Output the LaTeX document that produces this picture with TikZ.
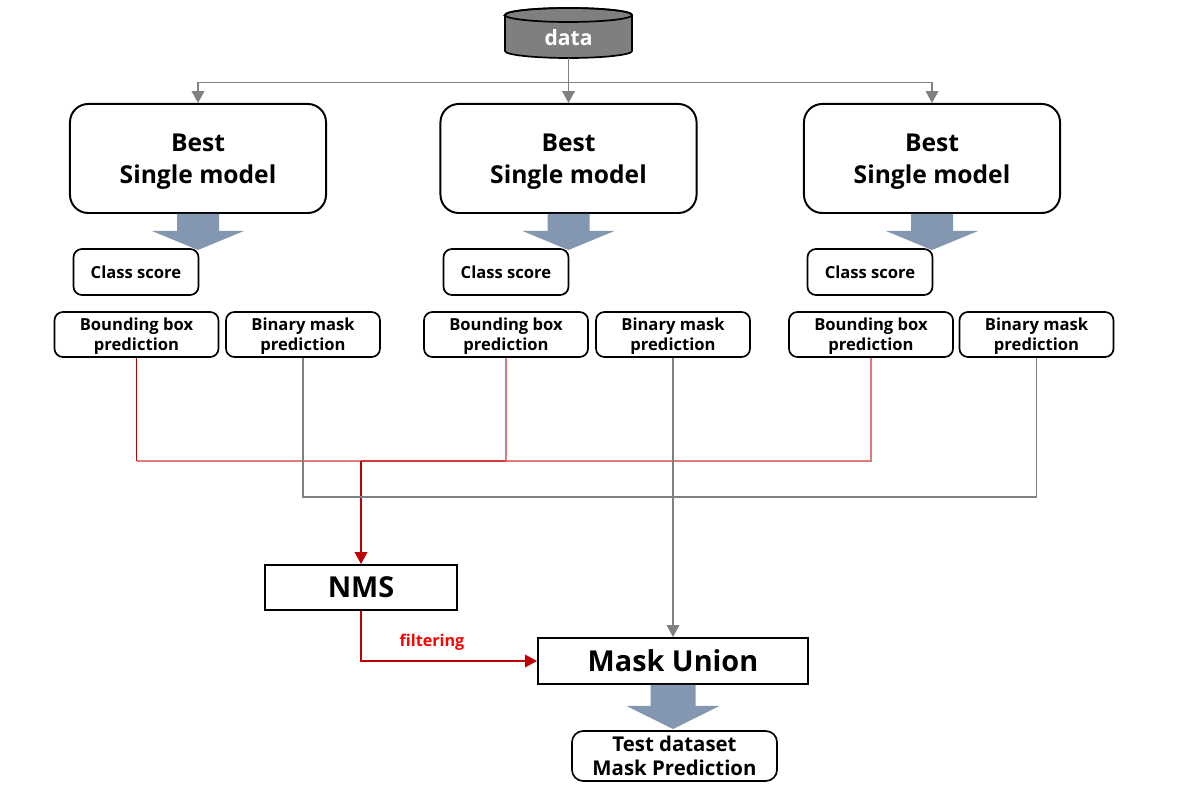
\documentclass[tikz,border=0pt]{standalone}
\usepackage{fontspec}
\setmainfont{Open Sans}
\usetikzlibrary{positioning}
\usetikzlibrary{arrows.meta,shapes}
\usetikzlibrary{calc}
\definecolor{arrowblue}{HTML}{8497B0}
\definecolor{linegray}{HTML}{808080}
\definecolor{cylgray}{HTML}{7F7F7F}
\definecolor{darkred}{HTML}{C00000}
\definecolor{midred}{HTML}{D03A3A}
\definecolor{lightred}{HTML}{E07B7B}
\tikzstyle{modelbox}=[rectangle,draw,rounded corners=13pt,line width=1.4pt,minimum width=6.4cm,minimum height=2.725cm,text depth=-3.5pt,align=center,font=\fontsize{17.5}{22.7}\selectfont\bfseries]
\tikzstyle{outbox}=[rectangle,draw,rounded corners=6pt,line width=1.2pt,minimum height=1.125cm,inner sep=0pt,align=center,font=\fontsize{11.8}{14}\selectfont\bfseries]
\tikzstyle{stepbox}=[rectangle,draw,line width=1.4pt,minimum height=1.15cm,font=\fontsize{20.5}{24}\selectfont\bfseries]
\tikzstyle{datanode}=[minimum width=3.175cm,minimum height=1.25cm,inner sep=0pt,text height=18pt,text depth=0pt,text=white,font=\fontsize{15}{18}\selectfont\bfseries]
\tikzstyle{grayedge}=[draw=linegray,line width=1pt]
\tikzstyle{rededge}=[line width=1.1pt]
\tikzstyle{arrowtip}=[-{Triangle[width=9pt,length=8.5pt]}]
\tikzstyle{blockarrow}=[fill=arrowblue]

\begin{document}
\begin{tikzpicture}[x=0.025cm,y=-0.025cm]
    \useasboundingbox (0,0) rectangle (1182,786);

    % the data cylinder
    \filldraw[fill=cylgray,line width=1.2pt] (505,15) -- (505,51) arc[start angle=180,end angle=360,x radius=1.5875cm,y radius=0.175cm] -- (632,15) arc[start angle=0,end angle=180,x radius=1.5875cm,y radius=0.175cm] -- cycle;
    \draw[line width=1.2pt] (568.5,15) ellipse [x radius=1.5875cm,y radius=0.175cm];
    \node[datanode] (data) at (568.5,33) {data};

    % the three single models and their outputs
    \foreach \pos/\name in {{(198,158.5)/best1}, {(568.5,158.5)/best2}, {(932,158.5)/best3}}
        \node[modelbox] (\name) at \pos {Best\\Single model};

    \foreach \pos/\name in {{(136,272)/class1}, {(506,272)/class2}, {(870,272)/class3}}
        \node[outbox,minimum width=3.125cm,minimum height=1.15cm] (\name) at \pos {Class score};

    \foreach \pos/\name in {{(136.5,334.5)/bb1}, {(506,334.5)/bb2}, {(871,334.5)/bb3}}
        \node[outbox,minimum width=4.1cm,text depth=-5pt] (\name) at \pos {Bounding box\\prediction};

    \foreach \pos/\name in {{(303,334.5)/bm1}, {(673,334.5)/bm2}, {(1036.5,334.5)/bm3}}
        \node[outbox,minimum width=3.85cm,text depth=-5pt] (\name) at \pos {Binary mask\\prediction};

    \node[stepbox,minimum width=4.8cm,minimum height=1.125cm] (nms) at (361,587.5) {NMS};
    \node[stepbox,minimum width=6.75cm] (union) at (673,661) {Mask Union};
    \node[outbox,minimum width=5.125cm,minimum height=1.25cm,rounded corners=8pt,text depth=-1pt,font=\fontsize{14.5}{17}\selectfont\bfseries] (test) at (674.5,756) {Test dataset\\Mask Prediction};
    \node[text=red,font=\fontsize{11.5}{14}\selectfont\bfseries] (filt) at (432,642) {filtering};

    % data goes to every model
    \draw[grayedge,arrowtip] (data.south) -- (best2.north);
    \draw[grayedge,arrowtip] (data.south) -- ++(0,24) -| (best1.north);
    \draw[grayedge,arrowtip] (data.south) -- ++(0,24) -| (best3.north);

    % block arrows
    \foreach \name in {best1,best2,best3}
        \fill[blockarrow] ($(\name.south)+(-21,0)$) -- ++(42,0) -- ++(0,17) -- ++(25,0) -- ++(-46,19) -- ++(-46,-19) -- ++(25,0) -- cycle;
    \fill[blockarrow] ($(union.south)+(-22.5,0)$) -- ++(45,0) -- ++(0,21) -- ++(24,0) -- ++(-46.5,23) -- ++(-46.5,-23) -- ++(24,0) -- cycle;

    % boxes into NMS
    \coordinate (redjoin) at (361,461);
    \draw[rededge,darkred] (bb1.south) -- (bb1.south |- redjoin);
    \draw[rededge,lightred] (bb1.south |- redjoin) -- (bb3.south |- redjoin) -- (bb3.south);
    \draw[rededge,lightred] (bb2.south) -- (bb2.south |- redjoin);
    \draw[rededge,midred] (bb2.south |- redjoin) -- (redjoin);
    \draw[rededge,darkred,arrowtip] (redjoin) -- (nms.north);

    % masks into the union
    \coordinate (grayjoin) at (673,497);
    \draw[grayedge] (bm1.south) |- (grayjoin) -| (bm3.south);
    \draw[grayedge,arrowtip] (bm2.south) -- (union.north);

    \draw[rededge,darkred,arrowtip] (nms.south) |- (union.west);
\end{tikzpicture}
\end{document}
